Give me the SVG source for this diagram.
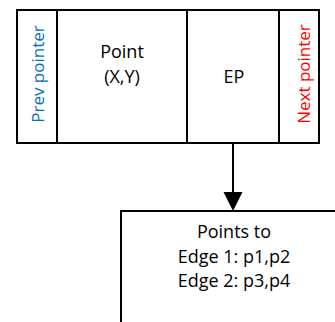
<svg xmlns="http://www.w3.org/2000/svg" width="335" height="322" viewBox="0 0 335 322">
<style>
.box{fill:#fff;stroke:#000;stroke-width:2}
.t{font-family:"Open Sans","Liberation Sans",sans-serif;font-size:18px;fill:#000;text-anchor:middle}
.r{font-size:17px}
.line{stroke:#000;stroke-width:2;fill:none}
</style>
<rect x="0" y="0" width="335" height="322" fill="#fff"/>
<g id="prev">
<rect class="box" x="17" y="10" width="40" height="133"/>
<text class="t r" transform="translate(44,74) rotate(-90)" style="fill:#0070C0">Prev pointer</text>
</g>
<g id="point">
<rect class="box" x="57" y="10" width="130" height="133"/>
<text class="t" x="122" y="58">Point</text>
<text class="t" x="122" y="83">(X,Y)</text>
</g>
<g id="ep">
<rect class="box" x="187" y="10" width="92" height="133"/>
<text class="t" x="234" y="83">EP</text>
</g>
<g id="next">
<rect class="box" x="279" y="10" width="40" height="133"/>
<text class="t r" transform="translate(310,74) rotate(-90)" style="fill:#FF0000">Next pointer</text>
</g>
<g id="target">
<rect class="box" x="121" y="211" width="230" height="130"/>
<text class="t" x="234" y="238">Points to</text>
<text class="t" x="234" y="263">Edge 1: p1,p2</text>
<text class="t" x="234" y="287">Edge 2: p3,p4</text>
</g>
<g id="connectors">
<line class="line" x1="233" y1="143" x2="233" y2="192"/>
<path d="M223.5,192 L242.5,192 L233,211 Z" fill="#000"/>
</g>
</svg>
